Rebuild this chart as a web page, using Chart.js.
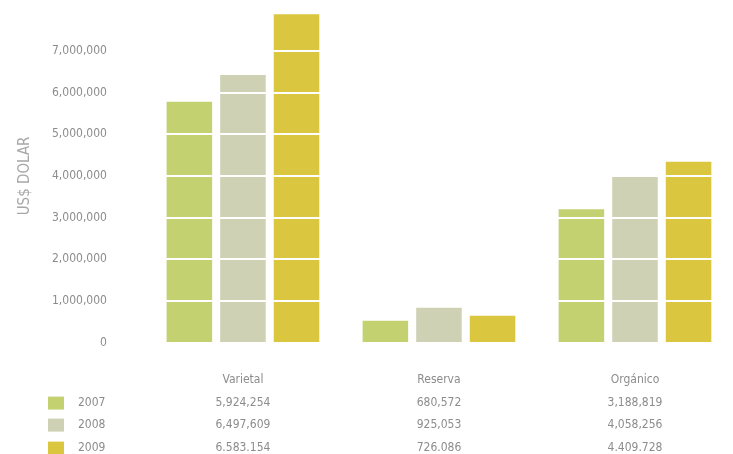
<!DOCTYPE html>
<html>
<head>
<meta charset="utf-8">
<script src="https://cdn.jsdelivr.net/npm/chart.js@4/dist/chart.umd.min.js"></script>
<style>
  html, body { margin: 0; padding: 0; background: #fff; }
  #wrap { width: 733px; height: 454px; }
</style>
</head>
<body>
<div id="wrap"><canvas id="barChart" width="733" height="454"></canvas></div>
<script>
var categories = ['Varietal', 'Reserva', 'Orgánico'];
var years = ['2007', '2008', '2009'];
var sales2007 = [5780000, 525000, 3200000];
var sales2008 = [6420000, 835000, 4000000];
var sales2009 = [7880000, 645000, 4340000];
var table2007 = ['5,924,254', '680,572', '3,188,819'];
var table2008 = ['6,497,609', '925,053', '4,058,256'];
var table2009 = ['6.583.154', '726.086', '4.409.728'];
var yTickValues = [0, 1000000, 2000000, 3000000, 4000000, 5000000, 6000000, 7000000];

var colors = ['#c3d170', '#cfd1b4', '#dbc640'];
var fontFam = "'Liberation Sans Narrow', 'DejaVu Sans Condensed', sans-serif";
var textColor = '#8c8c8c';

// white grid lines are painted over the bars
var overGrid = {
	id: 'overGrid',
	afterDatasetsDraw: function(chart) {
		var ctx = chart.ctx, area = chart.chartArea, y = chart.scales.y;
		ctx.save();
		ctx.strokeStyle = '#ffffff';
		ctx.lineWidth = 2;
		yTickValues.forEach(function(v) {
			if (v === 0) return;
			var py = Math.round(y.getPixelForValue(v));
			ctx.beginPath();
			ctx.moveTo(area.left, py);
			ctx.lineTo(area.right, py);
			ctx.stroke();
		});
		ctx.restore();
	}
};

// data table under the chart
var dataTable = {
	id: 'dataTable',
	afterDraw: function(chart) {
		var ctx = chart.ctx, area = chart.chartArea, x = chart.scales.x;
		var rows = [table2007, table2008, table2009];
		var rowY = [area.bottom + 60, area.bottom + 82, area.bottom + 105];
		ctx.save();
		ctx.font = '12px ' + fontFam;
		ctx.textBaseline = 'middle';
		rows.forEach(function(row, i) {
			ctx.fillStyle = colors[i];
			ctx.fillRect(48, rowY[i] - 6, 16, 13);
			ctx.fillStyle = textColor;
			ctx.textAlign = 'left';
			ctx.fillText(years[i], 78, rowY[i]);
			ctx.textAlign = 'center';
			row.forEach(function(label, j) {
				ctx.fillText(label, x.getPixelForValue(j), rowY[i]);
			});
		});
		ctx.restore();
	}
};

var ctx = document.getElementById('barChart').getContext('2d');
var barChart = new Chart(ctx, {
	type: 'bar',
	data: {
		labels: categories,
		datasets: [
			{ label: years[0], data: sales2007, backgroundColor: colors[0] },
			{ label: years[1], data: sales2008, backgroundColor: colors[1] },
			{ label: years[2], data: sales2009, backgroundColor: colors[2] }
		]
	},
	options: {
		responsive: false,
		animation: false,
		categoryPercentage: 0.82,
		barPercentage: 0.85,
		layout: { padding: { left: 16, right: -6, top: 8, bottom: 67 } },
		plugins: {
			legend: { display: false },
			tooltip: { enabled: false }
		},
		scales: {
			x: {
				// invisible tick marks push the labels down
				grid: { display: true, drawOnChartArea: false, tickLength: 30, tickColor: 'rgba(0,0,0,0)' },
				border: { display: false },
				ticks: {
					padding: 0,
					color: textColor,
					font: { family: fontFam, size: 12 }
				}
			},
			y: {
				min: 0,
				max: 8000000,
				grid: { display: true, drawOnChartArea: false, tickLength: 36, tickColor: 'rgba(0,0,0,0)' },
				border: { display: false },
				title: {
					display: true,
					text: 'US$ DOLAR',
					color: '#a8a8a8',
					font: { family: fontFam, size: 15 },
					padding: { top: 0, bottom: 16 }
				},
				ticks: {
					stepSize: 1000000,
					padding: 2,
					color: textColor,
					font: { family: fontFam, size: 12 },
					callback: function(v) {
						if (v > 7000000) return '';
						return v.toLocaleString('en-US');
					}
				}
			}
		}
	},
	plugins: [overGrid, dataTable]
});
</script>
</body>
</html>
